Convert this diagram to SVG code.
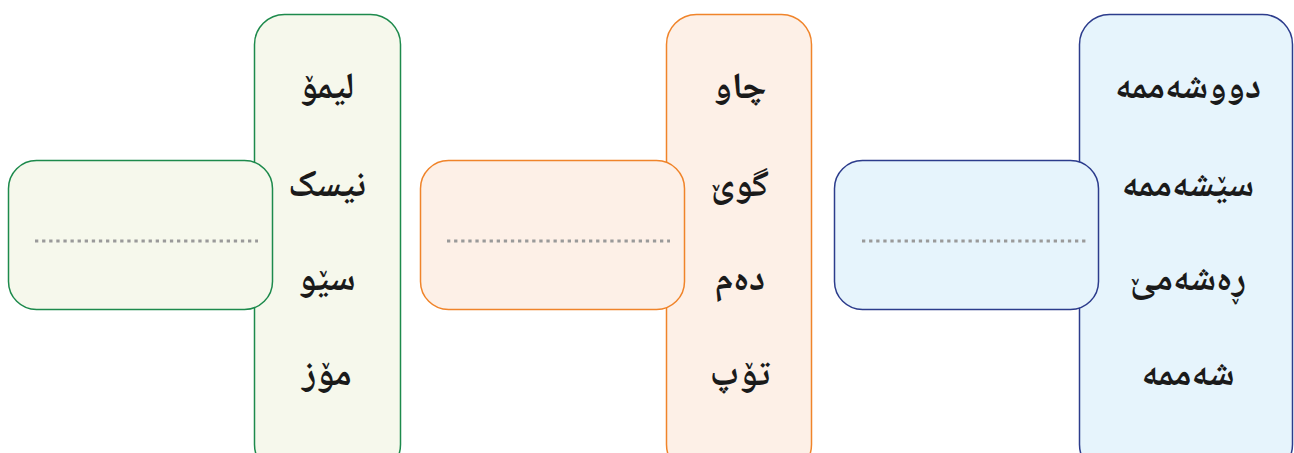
<svg xmlns="http://www.w3.org/2000/svg" width="1294" height="453" viewBox="0 0 1294 453">
<style>
.t{font-family:"Noto Naskh Arabic","DejaVu Sans",sans-serif;font-size:37px;font-weight:bold;fill:#1a1a1a;text-anchor:middle;direction:rtl}
.dots{stroke:#9a9a9a;stroke-width:3.2;stroke-dasharray:3.3 3.8;fill:none}
.g{fill:#f6f8ec;stroke:#1d8a4c;stroke-width:1.5}
.o{fill:#fdf0e7;stroke:#f0842a;stroke-width:1.5}
.b{fill:#e6f4fc;stroke:#2c3c8c;stroke-width:1.5}
</style>
<g id="green-list">
<rect class="g" x="254.5" y="14.5" width="146" height="460" rx="30"/>
<text class="t" x="327" y="98">لیمۆ</text>
<text class="t" x="327" y="196">نیسک</text>
<text class="t" x="327" y="290">سێو</text>
<text class="t" x="327" y="385">مۆز</text>
</g>
<g id="green-answer">
<rect class="g" x="8.5" y="160.5" width="264" height="149" rx="28"/>
<line class="dots" x1="35" y1="241" x2="258" y2="241"/>
</g>
<g id="orange-list">
<rect class="o" x="666.5" y="14.5" width="145" height="460" rx="30"/>
<text class="t" x="740" y="98">چاو</text>
<text class="t" x="740" y="196">گوێ</text>
<text class="t" x="740" y="290">دەم</text>
<text class="t" x="740" y="385">تۆپ</text>
</g>
<g id="orange-answer">
<rect class="o" x="420.5" y="160.5" width="264" height="149" rx="28"/>
<line class="dots" x1="447" y1="241" x2="670" y2="241"/>
</g>
<g id="blue-list">
<rect class="b" x="1079.5" y="14.5" width="213" height="460" rx="30"/>
<text class="t" x="1188" y="98">دووشەممە</text>
<text class="t" x="1188" y="196">سێشەممە</text>
<text class="t" x="1188" y="290">ڕەشەمێ</text>
<text class="t" x="1188" y="385">شەممە</text>
</g>
<g id="blue-answer">
<rect class="b" x="834.5" y="160.5" width="264" height="149" rx="28"/>
<line class="dots" x1="862" y1="241" x2="1086" y2="241"/>
</g>
<g id="connectors"/>
</svg>
